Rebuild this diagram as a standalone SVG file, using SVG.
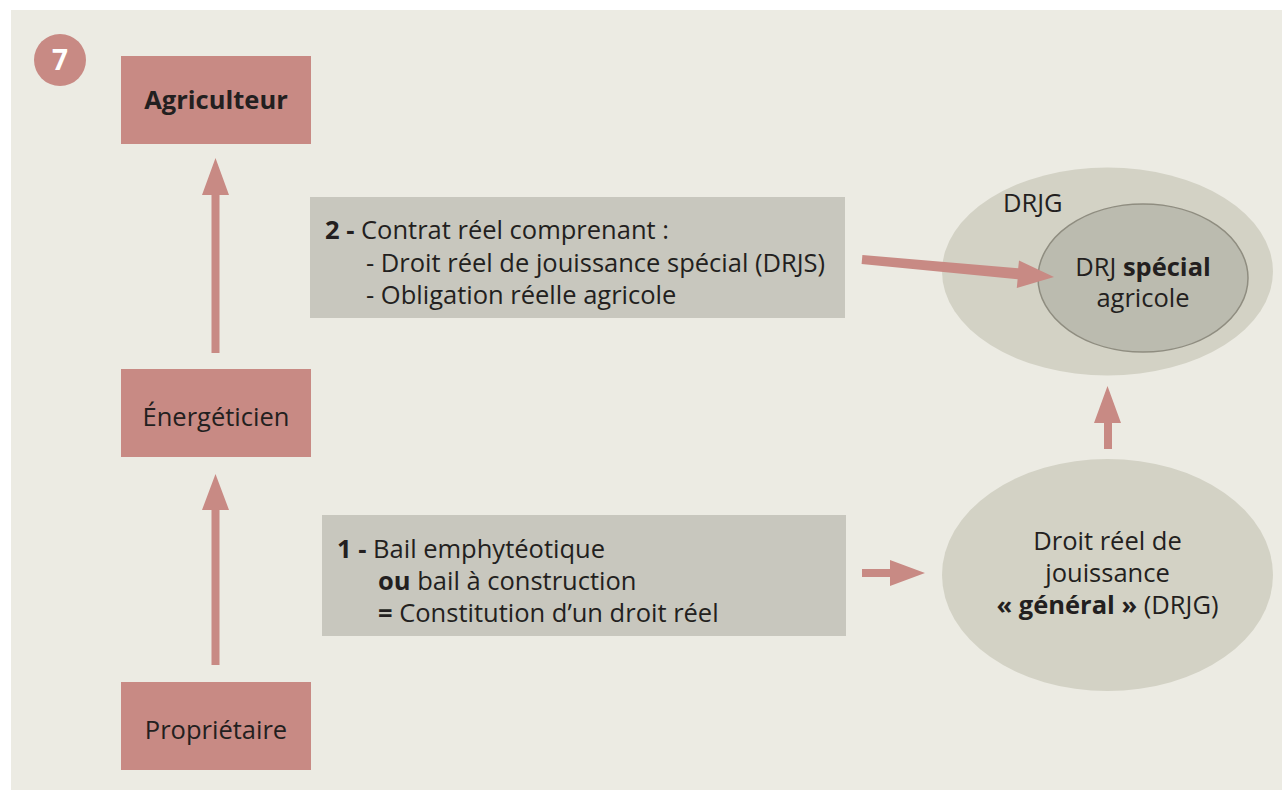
<svg xmlns="http://www.w3.org/2000/svg" width="1282" height="790" viewBox="0 0 1282 790">
<style>
.t{font-family:"Open Sans","Noto Sans","Liberation Sans",sans-serif;font-size:25.5px;fill:#231f20}
.b{font-weight:bold}
.node{fill:#c88a84}
.box{fill:#c8c7be}
.arr{fill:#c88a84}
</style>
<rect x="0" y="0" width="1282" height="790" fill="#ffffff"/>
<rect x="11" y="10" width="1271" height="780" fill="#ecebe3"/>
<g id="badge">
<circle cx="60" cy="60" r="26" fill="#c88a84"/>
<text x="60" y="70" text-anchor="middle" class="t b" style="fill:#fff;font-size:28px">7</text>
</g>
<g id="agriculteur">
<rect class="node" x="121" y="56" width="190" height="88"/>
<text class="t b" x="216" y="109" text-anchor="middle">Agriculteur</text>
</g>
<g id="energeticien">
<rect class="node" x="121" y="369" width="190" height="88"/>
<text class="t" x="216" y="426" text-anchor="middle">Énergéticien</text>
</g>
<g id="proprietaire">
<rect class="node" x="121" y="682" width="190" height="88"/>
<text class="t" x="216" y="739" text-anchor="middle">Propriétaire</text>
</g>
<g id="contrat2">
<rect class="box" x="310" y="197" width="535" height="121"/>
<text class="t" x="325" y="239"><tspan class="b">2 -</tspan> Contrat réel comprenant :</text>
<text class="t" x="366" y="272">- Droit réel de jouissance spécial (DRJS)</text>
<text class="t" x="366" y="304">- Obligation réelle agricole</text>
</g>
<g id="bail1">
<rect class="box" x="322" y="515" width="524" height="121"/>
<text class="t" x="337" y="558"><tspan class="b">1 -</tspan> Bail emphytéotique</text>
<text class="t" x="378" y="590"><tspan class="b">ou</tspan> bail à construction</text>
<text class="t" x="378" y="622"><tspan class="b">=</tspan> Constitution d’un droit réel</text>
</g>
<g id="drjg-outer">
<ellipse cx="1107.5" cy="271.5" rx="165.5" ry="104" fill="#d3d2c5"/>
<text class="t" x="1003" y="212">DRJG</text>
</g>
<g id="drj-special">
<ellipse cx="1143" cy="278" rx="105" ry="74" fill="#bbbbaf" stroke="#8f8d80" stroke-width="1.5"/>
<text class="t" x="1143" y="276" text-anchor="middle">DRJ <tspan class="b">spécial</tspan></text>
<text class="t" x="1143" y="307" text-anchor="middle">agricole</text>
</g>
<g id="drjg">
<ellipse cx="1107.5" cy="575" rx="165.5" ry="116" fill="#d3d2c5"/>
<text class="t" x="1107.5" y="550" text-anchor="middle">Droit réel de</text>
<text class="t" x="1107.5" y="582" text-anchor="middle">jouissance</text>
<text class="t" x="1107.5" y="614" text-anchor="middle"><tspan class="b">« général »</tspan> (DRJG)</text>
</g>
<g id="connectors">
<polygon class="arr" points="211.5,665 219.5,665 219.5,510 229,510 215.5,474 202,510 211.5,510"/>
<polygon class="arr" points="211.5,353 219.5,353 219.5,195 229,195 215.5,158 202,195 211.5,195"/>
<polygon class="arr" points="862,569 890,569 890,560 925,573 890,586 890,577 862,577"/>
<polygon class="arr" points="1104,449 1112,449 1112,423 1121,423 1107.5,386 1094,423 1104,423"/>
<polygon class="arr" points="862.4,255 1018.2,268.2 1019,260.5 1054,277 1016.8,288 1017.6,279.2 861.6,264"/>
</g>
</svg>
